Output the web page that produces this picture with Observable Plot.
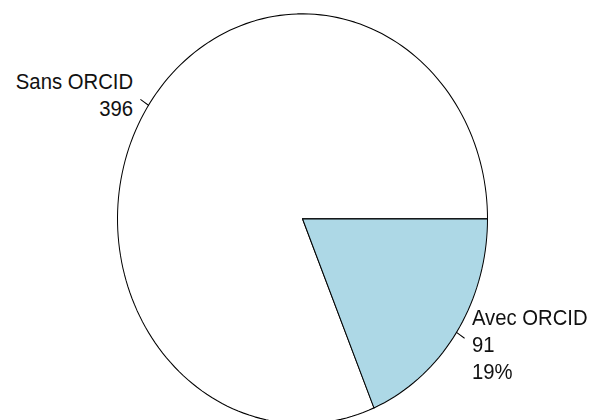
<!DOCTYPE html>
<html>
<head>
<meta charset="utf-8">
<script src="https://cdn.jsdelivr.net/npm/d3@7"></script>
<script src="https://cdn.jsdelivr.net/npm/@observablehq/plot@0.6"></script>
<style>
  html, body { margin: 0; padding: 0; background: #fff; width: 590px; height: 420px; overflow: hidden; }
  #chart { width: 590px; height: 379px; transform: scaleY(1.108); transform-origin: 0 0; }
  #chart svg { display: block; overflow: visible; }
</style>
</head>
<body>
<div id="chart"></div>
<script>
const categories = ["Sans ORCID", "Avec ORCID"];
const values = [396, 91];
const fills = ["white", "lightblue"];
const labels = ["Sans ORCID\n396", "Avec ORCID\n91\n19%"];

const total = d3.sum(values);
let start = 0;
const slices = categories.map((c, i) => {
  const a0 = start, a1 = start + 2 * Math.PI * values[i] / total;
  start = a1;
  return {category: c, a0, a1, mid: (a0 + a1) / 2, label: labels[i], fill: fills[i]};
});

// polygon outlines for each slice (center -> arc -> center), R-style pie edges
const polys = [];
slices.forEach(s => {
  const n = Math.max(2, Math.ceil(200 * (s.a1 - s.a0) / (2 * Math.PI)));
  polys.push({category: s.category, x: 0, y: 0});
  for (let k = 0; k <= n; k++) {
    const t = s.a0 + (s.a1 - s.a0) * k / n;
    polys.push({category: s.category, x: Math.cos(t), y: Math.sin(t)});
  }
  polys.push({category: s.category, x: 0, y: 0});
});

const ticks = slices.flatMap(s => [
  {category: s.category, x: Math.cos(s.mid), y: Math.sin(s.mid)},
  {category: s.category, x: 1.05 * Math.cos(s.mid), y: 1.05 * Math.sin(s.mid)}
]);

const texts = slices.map(s => ({
  x: 1.1 * Math.cos(s.mid), y: 1.1 * Math.sin(s.mid), label: s.label,
  anchor: Math.cos(s.mid) < 0 ? "end" : "start"
}));

const plot = Plot.plot({
  width: 590,
  height: 379,
  margin: 0,
  style: {fontFamily: "'Liberation Sans', Arial, sans-serif", background: "white", overflow: "visible"},
  x: {domain: [-1, 1], range: [117, 487], axis: null},
  y: {domain: [-1, 1], range: [382, 12], axis: null},
  color: {domain: categories, range: fills},
  marks: [
    Plot.line(polys, {x: "x", y: "y", z: "category", fill: "category", stroke: "black", strokeWidth: 1, curve: "linear"}),
    Plot.line(ticks, {x: "x", y: "y", z: "category", stroke: "black", strokeWidth: 1}),
    Plot.text(texts.filter(d => d.anchor === "end"), {x: "x", y: "y", text: "label", textAnchor: "end", lineAnchor: "middle", lineHeight: 1.2, fontSize: 20.3, fill: "#111"}),
    Plot.text(texts.filter(d => d.anchor === "start"), {x: "x", y: "y", text: "label", textAnchor: "start", lineAnchor: "middle", lineHeight: 1.2, fontSize: 20.3, fill: "#111"})
  ]
});
document.getElementById("chart").appendChild(plot);
</script>
</body>
</html>
